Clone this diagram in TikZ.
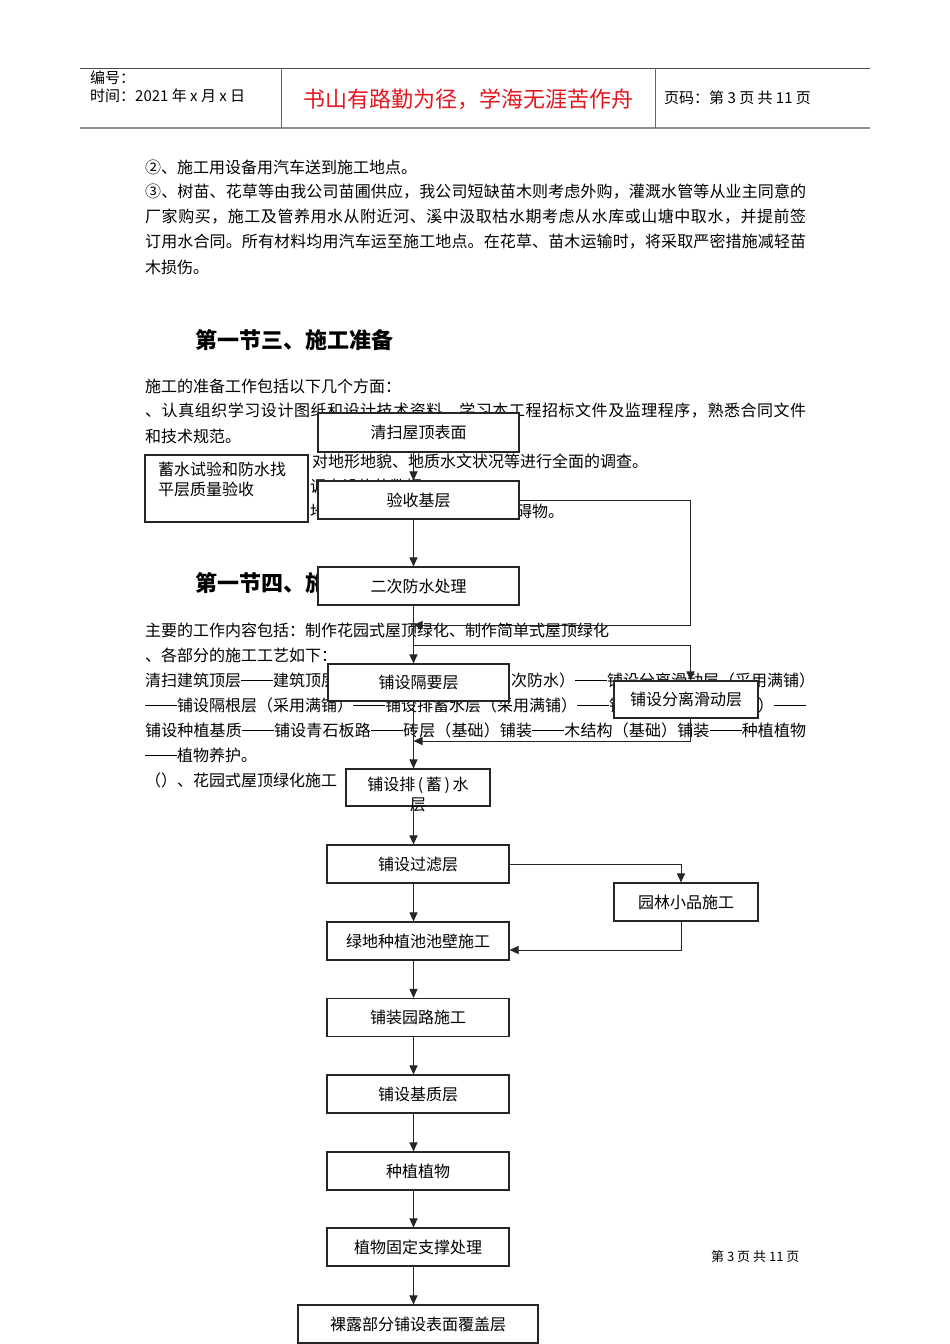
\documentclass[tikz,border=0pt]{standalone}
\usepackage{fontspec}
\setmainfont{Noto Sans CJK SC}
\usetikzlibrary{arrows.meta,calc}
\definecolor{tred}{RGB}{228,22,30}
\newcommand\DD{\leavevmode\rule[0.33em]{2em}{0.06em}}
\ExplSyntaxOn
\NewDocumentCommand\jline{m}{\hbox~to~661pt{\bool_set_false:N \l_tmpa_bool \tl_map_inline:nn {#1}{\bool_if:NT \l_tmpa_bool {\hskip~0pt~plus~1fil} \bool_set_true:N \l_tmpa_bool ##1}}}
\ExplSyntaxOff
\begin{document}
\begin{tikzpicture}[x=1pt,y=-1pt,
 txt/.style={anchor=west,inner sep=0pt,font=\fontsize{16pt}{20pt}\selectfont},
 head/.style={anchor=west,inner sep=0pt,font=\fontsize{22pt}{26pt}\selectfont\bfseries},
 fbox/.style={draw=black!85,fill=white,line width=1.1pt,inner sep=0pt,font=\fontsize{16pt}{20pt}\selectfont},
 ln/.style={line width=1pt,draw=black!85},
 arr/.style={ln,-{Triangle[length=9pt,width=8pt]}}]
\useasboundingbox (0,0) rectangle (950,1344);
\fill[white] (0,0) rectangle (950,1344);

% header
\draw[black!70,line width=0.8pt] (80,68) -- (870,68);
\draw[black!45,line width=2pt] (80,128) -- (870,128);
\draw[black!60,line width=0.8pt] (281,68) -- (281,128);
\draw[black!60,line width=0.8pt] (655,68) -- (655,128);
\node[anchor=west,inner sep=0pt,font=\fontsize{15pt}{18pt}\selectfont] (h1) at (90,78) {编号：};
\node[anchor=west,inner sep=0pt,font=\fontsize{15pt}{18pt}\selectfont] (h2) at (90,96) {时间：2021 年 x 月 x 日};
\node[inner sep=0pt,text=tred,font=\fontsize{22pt}{26pt}\selectfont] (h3) at (468,99) {书山有路勤为径，学海无涯苦作舟};
\node[anchor=west,inner sep=0pt,font=\fontsize{15pt}{18pt}\selectfont] (h4) at (664,98) {页码：第 3 页 共 11 页};

% body text
\node[txt] (t1) at (145,167) {②、施工用设备用汽车送到施工地点。};
\node[txt] (t2) at (145,192) {\jline{③、树苗、花草等由我公司苗圃供应，我公司短缺苗木则考虑外购，灌溉水管等从业主同意的}};
\node[txt] (t3) at (145,217) {\jline{厂家购买，施工及管养用水从附近河、溪中汲取枯水期考虑从水库或山塘中取水，并提前签}};
\node[txt] (t4) at (145,242) {\jline{订用水合同。所有材料均用汽车运至施工地点。在花草、苗木运输时，将采取严密措施减轻苗}};
\node[txt] (t5) at (145,267) {木损伤。};
\node[head] (s1) at (195,340) {第一节三、施工准备};
\node[txt] (t6) at (145,386) {施工的准备工作包括以下几个方面：};
\node[txt] (t7) at (145,411) {\jline{、认真组织学习设计图纸和设计技术资料，学习本工程招标文件及监理程序，熟悉合同文件}};
\node[txt] (t8) at (145,436) {和技术规范。};
\node[txt] (t9) at (312,461) {对地形地貌、地质水文状况等进行全面的调查。};
\node[txt] (t10) at (310,486) {调查设施的数据};
\node[txt] (t11) at (310,511) {地};
\node[txt] (t12) at (516,511) {碍物。};
\node[head] (s2) at (195,583) {第一节四、施};
\node[txt] (t13) at (145,630) {主要的工作内容包括：制作花园式屋顶绿化、制作简单式屋顶绿化};
\node[txt] (t14) at (145,655) {、各部分的施工工艺如下：};
\node[txt] (t15) at (145,680) {清扫建筑顶层\DD 建筑顶层};
\node[txt] (t16) at (511,680) {次防水）\DD 铺设分离滑动层（采用满铺）};
\node[txt] (t17) at (145,705) {\DD 铺设隔根层（采用满铺）\DD 铺设排蓄水层（采用满铺）\DD 铺};
\node[txt,anchor=east] (t18) at (806,705) {铺）\DD};
\node[txt] (t19) at (145,730) {\jline{铺设种植基质\DD 铺设青石板路\DD 砖层（基础）铺装\DD 木结构（基础）铺装\DD 种植植物}};
\node[txt] (t20) at (145,755) {\DD 植物养护。};
\node[txt] (t21) at (145,780) {（）、花园式屋顶绿化施工};
\node[anchor=west,inner sep=0pt,font=\fontsize{13pt}{16pt}\selectfont] (ft) at (711,1257) {第 3 页 共 11 页};

% boxes
\node[fbox,minimum width=201pt,minimum height=39pt] (b1) at (418.5,432.5) {清扫屋顶表面};
\node[fbox,minimum width=163pt,minimum height=67pt] (b2) at (226.5,488.5) {};
\node[anchor=north west,inner sep=0pt,align=left,font=\fontsize{16pt}{20pt}\selectfont] (b2t) at (158,462) {蓄水试验和防水找\\平层质量验收};
\node[fbox,minimum width=201pt,minimum height=38pt] (b3) at (418.5,500) {验收基层};
\node[fbox,minimum width=201pt,minimum height=38pt] (b4) at (418.5,586) {二次防水处理};
\node[fbox,minimum width=181pt,minimum height=37pt] (b5) at (418.5,682.5) {铺设隔要层};
\node[fbox,minimum width=144pt,minimum height=37pt] (b6) at (686,699.5) {铺设分离滑动层};
\node[fbox,minimum width=144pt,minimum height=37pt] (b7) at (418,787.5) {};
\node[anchor=north,inner sep=0pt,align=center,font=\fontsize{16pt}{20pt}\selectfont] (b7t) at (418,777) {铺设排\,(\,蓄\,)\,水\\层};
\node[fbox,minimum width=182pt,minimum height=38pt] (b8) at (418,864) {铺设过滤层};
\node[fbox,minimum width=144pt,minimum height=38pt] (b9) at (686,902) {园林小品施工};
\node[fbox,minimum width=182pt,minimum height=38pt] (b10) at (418,941) {绿地种植池池壁施工};
\node[fbox,minimum width=182pt,minimum height=38pt] (b11) at (418,1017.5) {铺装园路施工};
\node[fbox,minimum width=182pt,minimum height=38pt] (b12) at (418,1094) {铺设基质层};
\node[fbox,minimum width=182pt,minimum height=38pt] (b13) at (418,1171) {种植植物};
\node[fbox,minimum width=182pt,minimum height=38pt] (b14) at (418,1247) {植物固定支撑处理};
\node[fbox,minimum width=240pt,minimum height=38pt] (b15) at (418,1324) {裸露部分铺设表面覆盖层};

% connector guides
\coordinate (mx) at (413.5,0);
\coordinate (rx) at (690.5,0);
\coordinate (gx) at (681,0);
\coordinate (c1) at (690.5,625);
\coordinate (j1) at (413.5,625);
\coordinate (j2) at (413.5,645);
\coordinate (j3) at (413.5,741);

% connectors
\draw[arr] (b1.south -| mx) -- (b3.north -| mx);
\draw[arr] (b3.south -| mx) -- (b4.north -| mx);
\draw[arr] (b3.east) -| (c1) -- (j1);
\draw[arr] (b4.south -| mx) -- (b5.north -| mx);
\draw[arr] (j2) -| (b6.north -| rx);
\draw[arr] (b6.south -| rx) |- (j3);
\draw[arr] (b5.south -| mx) -- (b7.north -| mx);
\draw[arr] (b7.south -| mx) -- (b8.north -| mx);
\draw[arr] (b8.east) -| (b9.north -| gx);
\draw[arr] (b8.south -| mx) -- (b10.north -| mx);
\draw[arr] (b9.south -| gx) |- ([yshift=-9pt]b10.east);
\draw[arr] (b10.south -| mx) -- (b11.north -| mx);
\draw[arr] (b11.south -| mx) -- (b12.north -| mx);
\draw[arr] (b12.south -| mx) -- (b13.north -| mx);
\draw[arr] (b13.south -| mx) -- (b14.north -| mx);
\draw[arr] (b14.south -| mx) -- (b15.north -| mx);
\end{tikzpicture}
\end{document}
